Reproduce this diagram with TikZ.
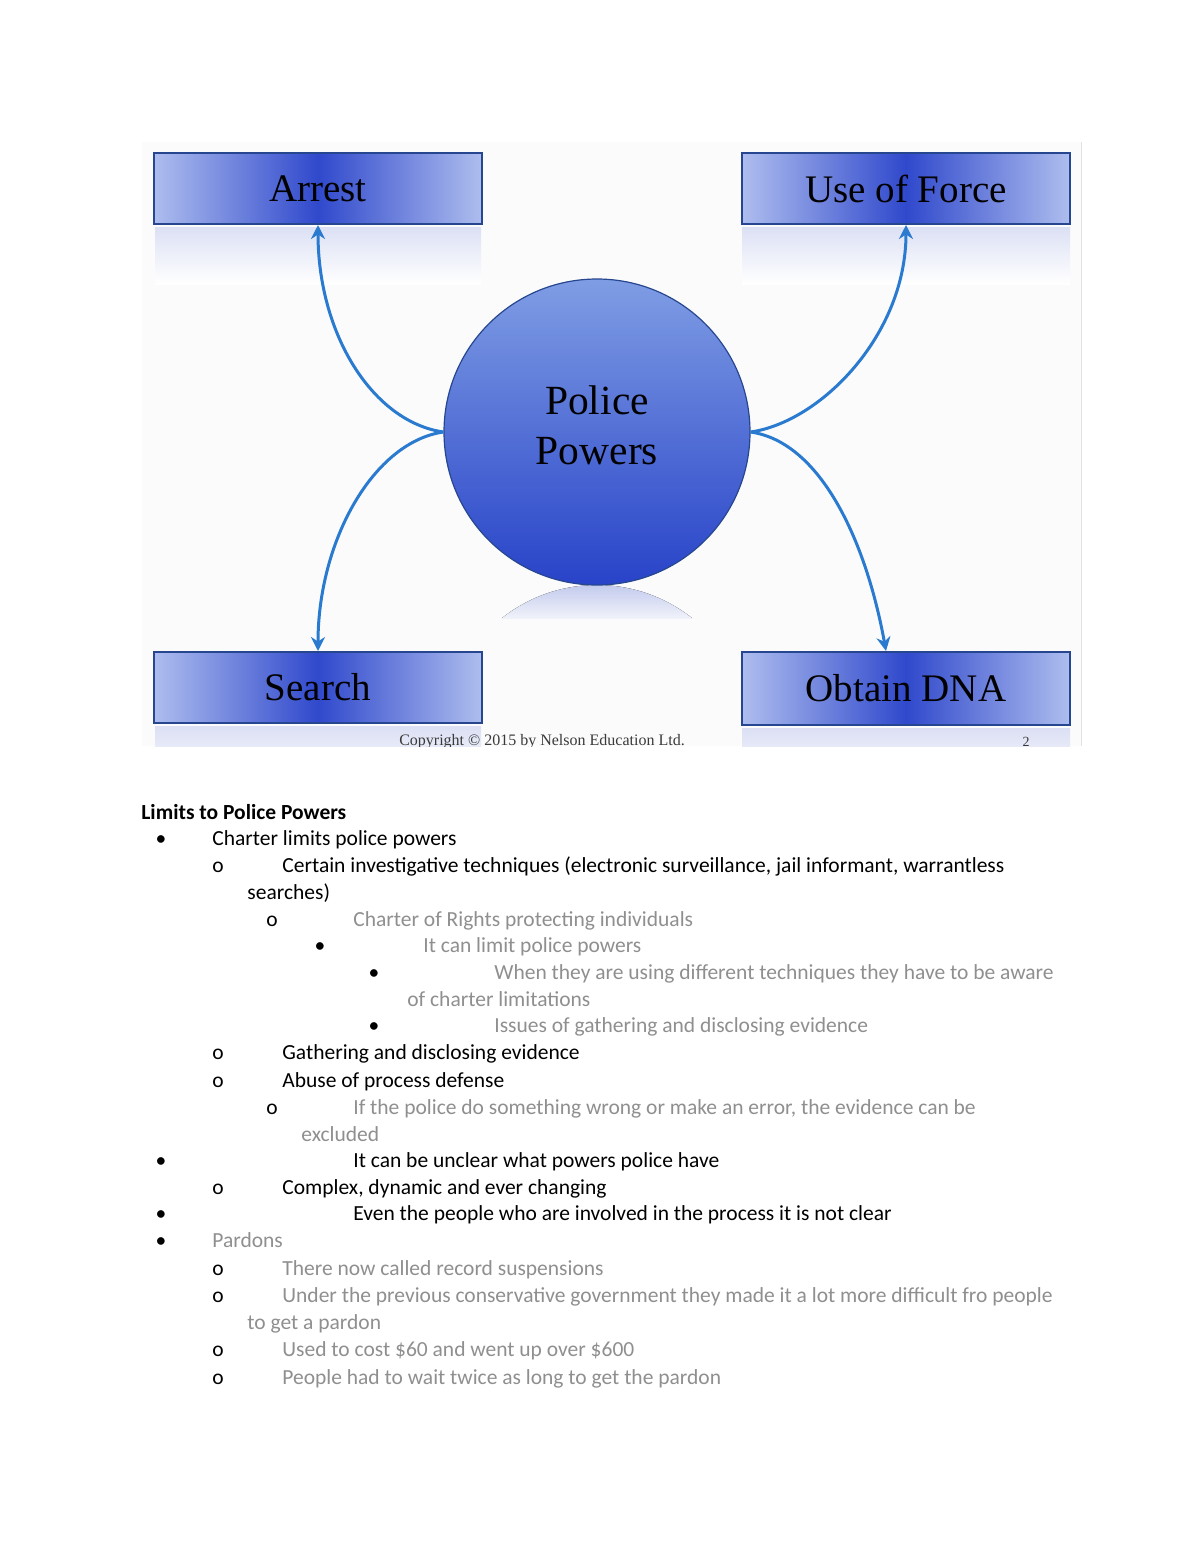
\documentclass[tikz,border=0pt]{standalone}
\usepackage{fontspec}
\setmainfont{Carlito}
\newfontfamily\dserif{Liberation Serif}
\usetikzlibrary{arrows.meta}
\definecolor{boxedge}{HTML}{26478F}
\definecolor{boxmid}{HTML}{3049CC}
\definecolor{boxside}{HTML}{AEBDEE}
\definecolor{circtop}{HTML}{7F9DE4}
\definecolor{circbot}{HTML}{2843C8}
\definecolor{arrowc}{HTML}{2A7BCF}
\definecolor{grayt}{HTML}{8F8F8F}
\definecolor{refl}{HTML}{DCE0F4}
\definecolor{reflstrong}{HTML}{C3CBED}
\definecolor{reflend}{HTML}{F0F2FA}
\definecolor{diagbg}{HTML}{FBFBFC}
\definecolor{frameline}{HTML}{E2E2E2}
\definecolor{copyc}{HTML}{3A3A3A}
\begin{document}
\begin{tikzpicture}[x=0.5pt,y=-0.5pt,
  powerbox/.style={draw=boxedge, line width=1pt, left color=boxside, right color=boxside, middle color=boxmid,
    minimum width=164pt, minimum height=35.5pt, inner sep=0pt, text=black,
    font=\dserif\fontsize{19.5}{22}\selectfont},
  hub/.style={circle, draw=boxedge, line width=0.6pt, top color=circtop, bottom color=circbot,
    minimum size=153pt, inner sep=0pt},
  hubtext/.style={align=center, font=\dserif\fontsize{20.75}{25}\selectfont, inner sep=0pt},
  conn/.style={draw=arrowc, line width=1.5pt, -{Stealth[length=7pt,width=7pt]}},
  txt/.style={anchor=base west, inner sep=0pt, font=\fontsize{10.75}{13}\selectfont, text=black},
  gtxt/.style={txt, text=grayt},
  bulletmk/.style={anchor=base, inner sep=0pt, font=\fontsize{10.75}{13}\selectfont, text=black},
  reflect/.style={top color=refl, bottom color=white, draw=none}
]
\useasboundingbox (0,0) rectangle (1200,1553);
\fill[white] (0,0) rectangle (1200,1553);

% ---------- diagram ----------
\begin{scope}
\clip (142,142) rectangle (1083,746);
\fill[diagbg] (142,142) rectangle (1082,746);
\draw[frameline, line width=0.8pt] (1081.5,142) -- (1081.5,746);

% reflections
\fill[reflect] (155,227) rectangle (481,284);
\fill[reflect] (742,227) rectangle (1070,284);
\fill[reflect] (155,726) rectangle (481,790);
\fill[reflect] (742,728) rectangle (1070,790);
\begin{scope}
  \clip (597,738) circle (153);
  \fill[top color=reflstrong, bottom color=reflend] (440,585) rectangle (760,618);
\end{scope}

\node[powerbox] (arrest) at (318,188.5) {Arrest};
\node[powerbox] (force) at (906,188.5) {Use of Force};
\node[powerbox] (search) at (318,687.5) {Search};
\node[powerbox, minimum height=36.5pt] (dna) at (906,688.5) {Obtain DNA};

\node[hub] (pp) at (597,432) {};
\node[hubtext] (pptext) at (597,425) {Police\\Powers};

\draw[conn] (pp.west) .. controls +(-70,-10) and +(0,110) .. (arrest.south);
\draw[conn] (pp.west) .. controls +(-70,10) and +(0,-110) .. (search.north);
\draw[conn] (pp.east) .. controls +(70,-10) and +(0,110) .. (force.south);
\draw[conn] (pp.east) .. controls +(70,10) and +(-20,-110) .. ([xshift=-10pt]dna.north);

\node[anchor=base, inner sep=0pt, text=copyc, font=\dserif\fontsize{8}{9}\selectfont] (copy) at (542,745) {Copyright © 2015 by Nelson Education Ltd.};
\node[anchor=base, inner sep=0pt, text=copyc, font=\dserif\fontsize{7}{8}\selectfont] (pg) at (1026,746) {2};
\end{scope}

% ---------- notes ----------
\node[txt, font=\bfseries\fontsize{10.75}{13}\selectfont] (head) at (141,819) {Limits to Police Powers};

\node[bulletmk] (m1) at (161,845) {•};
\node[txt] (t1) at (212,845) {Charter limits police powers};

\node[bulletmk] (m2) at (218,872) {o};
\node[txt] (t2) at (282,872) {Certain investigative techniques (electronic surveillance, jail informant, warrantless};
\node[txt] (t2b) at (247,899) {searches)};

\node[bulletmk] (m3) at (272,926) {o};
\node[gtxt] (t3) at (353,926) {Charter of Rights protecting individuals};

\node[bulletmk] (m4) at (320,952) {•};
\node[gtxt] (t4) at (423,952) {It can limit police powers};

\node[bulletmk] (m5) at (374,979) {•};
\node[gtxt] (t5) at (494,979) {When they are using different techniques they have to be aware};
\node[gtxt] (t5b) at (407,1006) {of charter limitations};

\node[bulletmk] (m6) at (374,1032) {•};
\node[gtxt] (t6) at (494,1032) {Issues of gathering and disclosing evidence};

\node[bulletmk] (m7) at (218,1059) {o};
\node[txt] (t7) at (282,1059) {Gathering and disclosing evidence};

\node[bulletmk] (m8) at (218,1087) {o};
\node[txt] (t8) at (282,1087) {Abuse of process defense};

\node[bulletmk] (m9) at (272,1114) {o};
\node[gtxt] (t9) at (353,1114) {If the police do something wrong or make an error, the evidence can be};
\node[gtxt] (t9b) at (301,1141) {excluded};

\node[bulletmk] (m10) at (161,1167) {•};
\node[txt] (t10) at (353,1167) {It can be unclear what powers police have};

\node[bulletmk] (m11) at (218,1194) {o};
\node[txt] (t11) at (282,1194) {Complex, dynamic and ever changing};

\node[bulletmk] (m12) at (161,1220) {•};
\node[txt] (t12) at (353,1220) {Even the people who are involved in the process it is not clear};

\node[bulletmk] (m13) at (161,1247) {•};
\node[gtxt] (t13) at (212,1247) {Pardons};

\node[bulletmk] (m14) at (218,1275) {o};
\node[gtxt] (t14) at (282,1275) {There now called record suspensions};

\node[bulletmk] (m15) at (218,1302) {o};
\node[gtxt] (t15) at (282,1302) {Under the previous conservative government they made it a lot more difficult fro people};
\node[gtxt] (t15b) at (247,1329) {to get a pardon};

\node[bulletmk] (m16) at (218,1356) {o};
\node[gtxt] (t16) at (282,1356) {Used to cost \$60 and went up over \$600};

\node[bulletmk] (m17) at (218,1384) {o};
\node[gtxt] (t17) at (282,1384) {People had to wait twice as long to get the pardon};
\end{tikzpicture}
\end{document}
